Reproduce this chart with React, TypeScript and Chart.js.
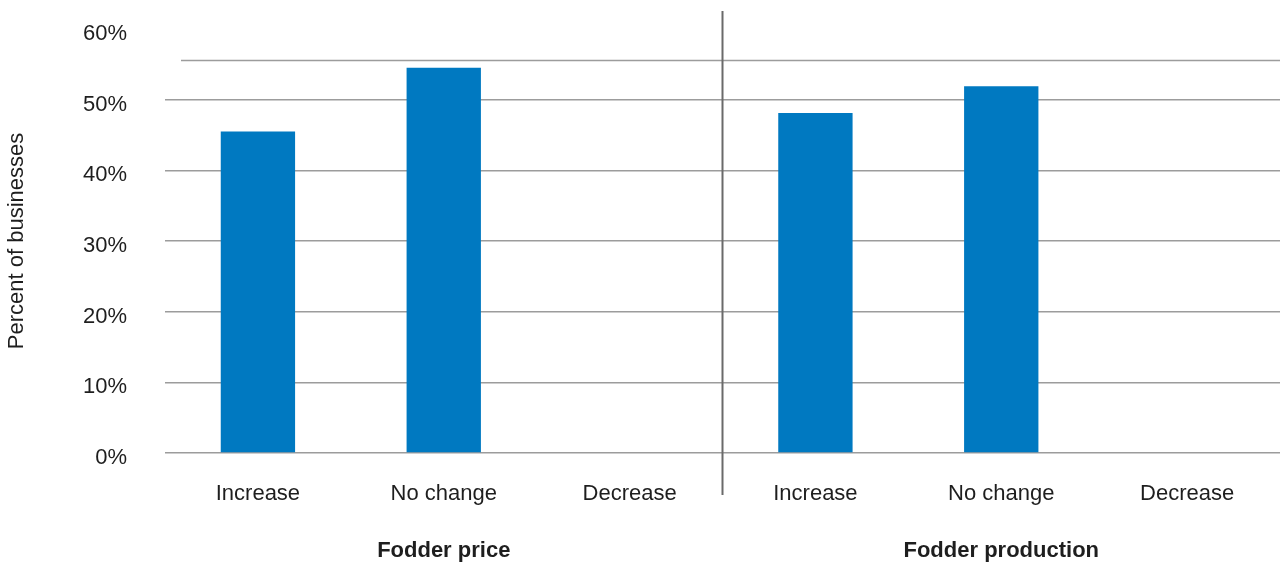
import React, { useEffect, useRef } from "react";
import { Chart, registerables } from "chart.js";

Chart.register(...registerables);

// Survey answers, percent of businesses
const GROUPS = ["Fodder price", "Fodder production"];
const ANSWERS = ["Increase", "No change", "Decrease"];
const FODDER_PRICE = [45.5, 54.5, 0];
const FODDER_PRODUCTION = [48.1, 51.9, 0];

// Value axis
const Y_TICKS = [0, 10, 20, 30, 40, 50, 60];
const Y_TITLE = "Percent of businesses";
// Upper rule drawn across the plot
const TOP_RULE = 55.6;

const FONT = "'Liberation Sans', Arial, Helvetica, sans-serif";
const TEXT = "#1e1e1e";
const BAR = "#0079c1";
const GRID = "#9c9c9c";
const DIVIDER = "#6a6a6a";

const LABELS = [...ANSWERS, ...ANSWERS];
const VALUES = [...FODDER_PRICE, ...FODDER_PRODUCTION];

const groupsPlugin = {
  id: "groups",
  afterDraw(chart: any) {
    const { ctx, chartArea } = chart;
    const x = chart.scales.x;
    const y = chart.scales.y;
    const per = ANSWERS.length;
    ctx.save();

    // horizontal rule near the top of the plot
    const ry = Math.round(y.getPixelForValue(TOP_RULE)) + 0.5;
    ctx.strokeStyle = GRID;
    ctx.lineWidth = 1.5;
    ctx.beginPath();
    ctx.moveTo(chartArea.left + 16, ry);
    ctx.lineTo(chartArea.right, ry);
    ctx.stroke();

    // divider between the two groups
    for (let g = 1; g < GROUPS.length; g++) {
      const sx = (x.getPixelForValue(g * per - 1) + x.getPixelForValue(g * per)) / 2;
      ctx.strokeStyle = DIVIDER;
      ctx.lineWidth = 2;
      ctx.beginPath();
      ctx.moveTo(sx, chartArea.top - 18);
      ctx.lineTo(sx, chartArea.bottom + 42);
      ctx.stroke();
    }

    // group names under the answer labels
    ctx.fillStyle = TEXT;
    ctx.font = `bold 22px ${FONT}`;
    ctx.textAlign = "center";
    ctx.textBaseline = "middle";
    GROUPS.forEach((name, g) => {
      const cx = x.getPixelForValue(g * per + (per - 1) / 2);
      ctx.fillText(name, cx, chartArea.bottom + 98);
    });
    ctx.restore();
  },
};

export default function App() {
  const canvasRef = useRef<HTMLCanvasElement | null>(null);

  useEffect(() => {
    if (!canvasRef.current) return;
    const chart = new Chart(canvasRef.current, {
      type: "bar",
      data: {
        labels: LABELS,
        datasets: [
          {
            data: VALUES,
            backgroundColor: BAR,
            borderWidth: 0,
            barPercentage: 0.4,
            categoryPercentage: 1,
          },
        ],
      },
      options: {
        animation: false,
        responsive: true,
        maintainAspectRatio: false,
        layout: { padding: { top: 29, right: 0, left: 0, bottom: 0 } },
        plugins: {
          legend: { display: false },
          tooltip: { enabled: false },
        },
        scales: {
          x: {
            grid: { display: false, drawTicks: false },
            border: { display: false },
            ticks: {
              color: TEXT,
              font: { family: FONT, size: 22 },
              padding: 28,
              maxRotation: 0,
              autoSkip: false,
            },
            afterFit(scale: any) {
              scale.height = 109;
              scale.paddingLeft = 0;
              scale.paddingRight = 0;
            },
          },
          y: {
            min: Y_TICKS[0],
            max: Y_TICKS[Y_TICKS.length - 1],
            afterBuildTicks(scale: any) {
              scale.ticks = Y_TICKS.map((v) => ({ value: v }));
            },
            grid: {
              drawTicks: false,
              lineWidth: 1.5,
              color: (c: any) =>
                c.tick && c.tick.value === Y_TICKS[Y_TICKS.length - 1] ? "rgba(0,0,0,0)" : GRID,
            },
            border: { display: false },
            ticks: {
              color: TEXT,
              font: { family: FONT, size: 22 },
              padding: 38,
              labelOffset: 5,
              callback: (v: any) => `${v}%`,
            },
            title: {
              display: true,
              text: Y_TITLE,
              color: TEXT,
              font: { family: FONT, size: 22 },
              padding: 4,
            },
            afterFit(scale: any) {
              scale.width = 165;
              scale.paddingTop = 0;
              scale.paddingBottom = 0;
            },
          },
        },
      },
      plugins: [groupsPlugin],
    });
    return () => chart.destroy();
  }, []);

  return (
    <div style={{ position: "fixed", left: 0, top: 0, width: 1280, height: 562, background: "#fff" }}>
      <canvas ref={canvasRef} />
    </div>
  );
}
